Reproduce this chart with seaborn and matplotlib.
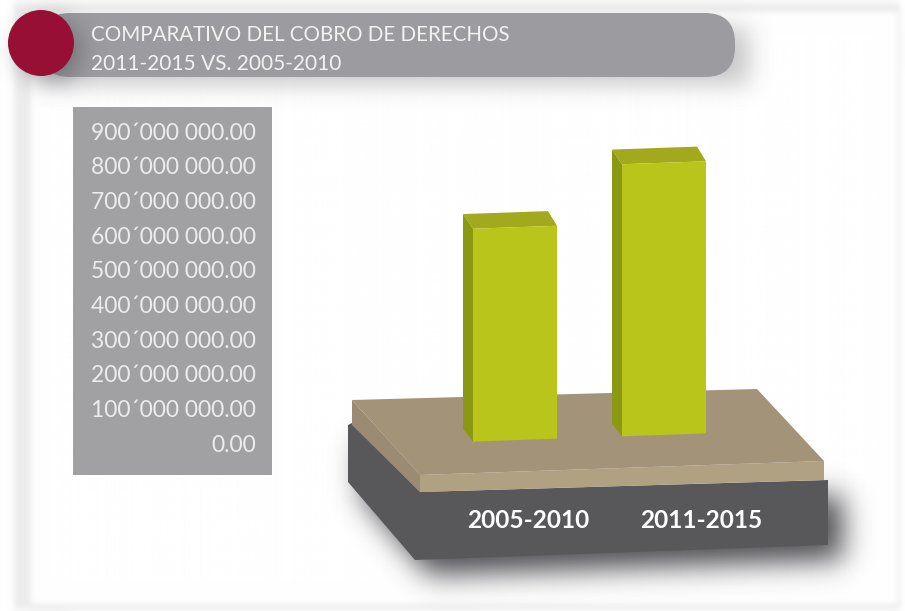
import numpy as np
import matplotlib
matplotlib.use('Agg')
import matplotlib.pyplot as plt
import seaborn as sns
from matplotlib.colors import to_rgb
from matplotlib.path import Path
from matplotlib.patches import Polygon, Circle, FancyBboxPatch, Rectangle
from matplotlib.transforms import Affine2D, ScaledTranslation

# values
periods = ['2005-2010', '2011-2015']
totals = [614000000, 785000000]
y_ticks = [0, 100000000, 200000000, 300000000, 400000000, 500000000, 600000000, 700000000, 800000000, 900000000]
y_labels = ['0.00', '100´000 000.00', '200´000 000.00', '300´000 000.00', '400´000 000.00',
            '500´000 000.00', '600´000 000.00', '700´000 000.00', '800´000 000.00', '900´000 000.00']
title_lines = ['COMPARATIVO DEL COBRO DE DERECHOS', '2011-2015 VS. 2005-2010']

W, H = 905, 611
sns.set_theme(style='white')
plt.rcParams['font.family'] = ['Lato', 'DejaVu Sans']

fig = plt.figure(figsize=(W / 100, H / 100), dpi=100, facecolor='white')

# backdrop in pixel coordinates (platform, header, grey box)
bg = fig.add_axes([0, 0, 1, 1])
bg.set_xlim(0, W)
bg.set_ylim(H, 0)
bg.axis('off')

gx, gy = np.meshgrid(np.arange(W) + 0.5, np.arange(H) + 0.5)
grid_pts = np.column_stack([gx.ravel(), gy.ravel()])
fx = np.fft.fftfreq(W)[None, :]
fy = np.fft.fftfreq(H)[:, None]


# gaussian blurred copy of a path, laid down as an image
def blurred(path, sigma, color, alpha, zorder):
    mask = path.contains_points(grid_pts).reshape(H, W).astype(float)
    kernel = np.exp(-2 * (np.pi * sigma) ** 2 * (fx ** 2 + fy ** 2))
    soft = np.fft.ifft2(np.fft.fft2(mask) * kernel).real.clip(0, 1)
    rgba = np.zeros((H, W, 4))
    rgba[..., :3] = to_rgb(color)
    rgba[..., 3] = soft * alpha
    bg.imshow(rgba, extent=(0, W, H, 0), aspect='auto', zorder=zorder, interpolation='nearest')


def box(x0, y0, x1, y1):
    return Path([(x0, y0), (x1, y0), (x1, y1), (x0, y1), (x0, y0)])


# soft grey band round the white panel
blurred(box(14, 3, 899, 609), 3, '#e6e6e6', 0.75, 0)
blurred(box(31, 12, 897, 604), 3, '#ffffff', 1.0, 0)

# header pill + circle
blurred(box(50, 28, 748, 84), 12, '#77777c', 0.42, 1)
bg.add_patch(FancyBboxPatch((40, 13), 695, 64, boxstyle='round,pad=0,rounding_size=30', fc='#9c9ca0', ec='none', zorder=2))
blurred(Path.circle((50, 50), 32), 11, '#55555a', 0.55, 3)
bg.add_patch(Circle((41, 43), 33, fc='#980f36', ec='none', zorder=4))
bg.text(91, 35, title_lines[0], color='#f2f2f2', fontsize=14.8, va='center', ha='left', zorder=5)
bg.text(91, 63.5, title_lines[1], color='#f2f2f2', fontsize=15, va='center', ha='left', zorder=5)

# grey box behind the value axis
bg.add_patch(Rectangle((73, 107), 199, 368, fc='#a1a1a4', ec='none', zorder=2))

# platform
base = [(348, 425), (352, 423), (420, 492), (828, 480), (828, 545), (415, 560), (348, 482)]
blurred(Path(base + base[:1]).transformed(Affine2D().translate(14, 15)), 14, '#2e2e34', 0.85, 1)
bg.add_patch(Polygon(base, closed=True, fc='#58585a', ec='none', zorder=2))
bg.add_patch(Polygon([(352, 400), (420, 475), (420, 492), (352, 425)], closed=True, fc='#9a8b72', ec='none', zorder=2))
bg.add_patch(Polygon([(420, 475), (824, 461), (824, 480), (420, 492)], closed=True, fc='#b0a183', ec='none', zorder=2))
bg.add_patch(Polygon([(352, 400), (757, 389), (824, 461), (420, 475)], closed=True, fc='#a39379', ec='none', zorder=2))
bg.set_xlim(0, W)
bg.set_ylim(H, 0)

# bars, 34.67 px per 100 million, 149 px between bars
px_x = 1 / 149
px_y = 1e8 / 34.67
ax = fig.add_axes([440.5 / W, (H - 437.5) / H, 298 / W, 312 / H])
ax.set_facecolor('none')
sns.barplot(x=periods, y=totals, color='#b9c51a', saturation=1, width=84 / 149, ax=ax, zorder=3, linewidth=0)
ax.set_xlim(-0.5, 1.5)
ax.set_ylim(0, 900000000)
ax.set_yticks(y_ticks)
ax.set_yticklabels(y_labels)
sns.despine(ax=ax, left=True, bottom=True)
ax.tick_params(axis='both', length=0)

# small shear: the right side of the platform sits higher than the left
slope = 0.035
xc = 589.5
shear = Affine2D.from_values(1, slope, 0, 1, 0, -slope * xc)
for bar in ax.patches:
    x0, w, h = bar.get_x(), bar.get_width(), bar.get_height()
    bar.set_transform(ax.transData + shear)
    bar.set_clip_on(False)
    dx, dy, dr = 10 * px_x, 15 * px_y, 9 * px_x
    top = Polygon([(x0, h), (x0 - dx, h + dy), (x0 + w - dr, h + dy), (x0 + w, h)], closed=True,
                  fc='#a2a91c', ec='none', transform=ax.transData + shear, clip_on=False, zorder=2)
    side = Polygon([(x0, h), (x0 - dx, h + dy), (x0 - dx, 13 * px_y), (x0, 0)], closed=True,
                   fc='#8a9812', ec='none', transform=ax.transData + shear, clip_on=False, zorder=2)
    ax.add_patch(top)
    ax.add_patch(side)

# tick labels sit on the grey box and on the front of the platform
dpi_trans = fig.dpi_scale_trans
ax.tick_params(axis='y', pad=184.5 * 0.72)
for lab in ax.get_yticklabels():
    lab.set_color('#ececec')
    lab.set_fontsize(16.5)
    lab.set_transform(lab.get_transform() + ScaledTranslation(0, -5.5 / 100, dpi_trans))
ax.tick_params(axis='x', pad=0)
for lab, shift in zip(ax.get_xticklabels(), [13, 37]):
    lab.set_color('white')
    lab.set_fontsize(17.6)
    lab.set_fontweight('bold')
    lab.set_transform(lab.get_transform() + ScaledTranslation(shift / 100, -72 / 100, dpi_trans))

fig.savefig('out.png', dpi=100, facecolor=fig.get_facecolor())
